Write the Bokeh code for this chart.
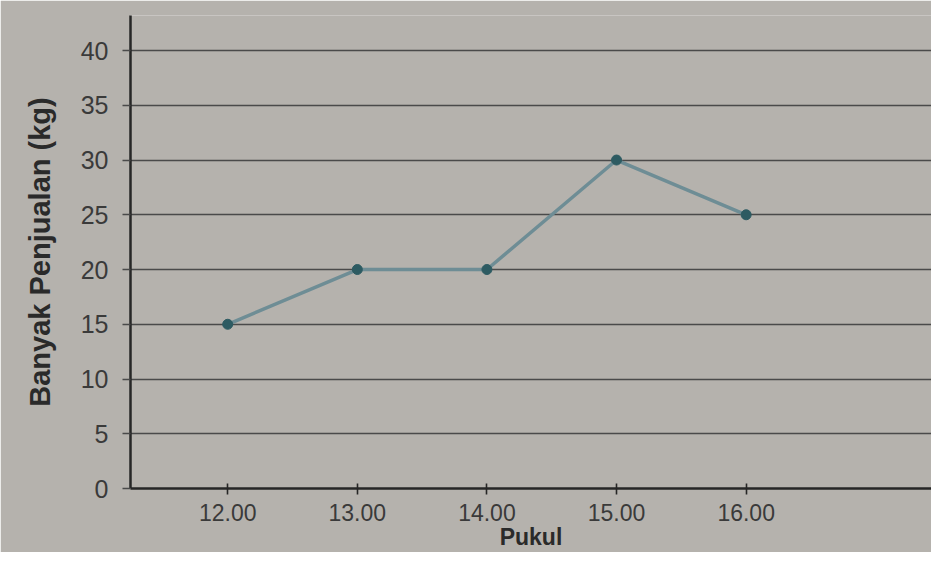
from bokeh.plotting import figure
from bokeh.models import FixedTicker
from bokeh.embed import file_html
from bokeh.resources import INLINE

hours = ["12.00", "13.00", "14.00", "15.00", "16.00"]
sales = [15, 20, 20, 30, 25]
y_ticks = [0, 5, 10, 15, 20, 25, 30, 35, 40]

xs = list(range(len(hours)))

BG = "#b5b2ad"
p = figure(width=931, height=552, output_backend="svg", toolbar_location=None,
           x_range=(-0.75, 5.43), y_range=(0, 43.2),
           min_border_left=130, min_border_right=0, min_border_top=15, min_border_bottom=64)
p.background_fill_color = BG
p.border_fill_color = BG
p.outline_line_color = None

FONT = "Liberation Sans"

# grid
p.xgrid.grid_line_color = None
p.ygrid.grid_line_color = "#4a4a4a"
p.ygrid.grid_line_width = 1.4
p.ygrid.ticker = FixedTicker(ticks=y_ticks)

# y axis
p.yaxis.ticker = FixedTicker(ticks=y_ticks)
p.yaxis.axis_line_color = "#262626"
p.yaxis.axis_line_width = 2.5
p.yaxis.major_tick_line_color = "#4a4a4a"
p.yaxis.major_tick_line_width = 1.4
p.yaxis.major_tick_out = 8
p.yaxis.major_tick_in = 0
p.yaxis.minor_tick_line_color = None
p.yaxis.major_label_text_font = FONT
p.yaxis.major_label_text_font_size = "25px"
p.yaxis.major_label_text_color = "#3a3a3a"
p.yaxis.major_label_standoff = 14
p.yaxis.axis_label = "Banyak Penjualan (kg)"
p.yaxis.axis_label_text_font = FONT
p.yaxis.axis_label_text_font_style = "bold"
p.yaxis.axis_label_text_font_size = "29px"
p.yaxis.axis_label_text_color = "#2a2a2a"
p.yaxis.axis_label_standoff = 22

# x axis
p.xaxis.ticker = FixedTicker(ticks=xs)
p.xaxis.major_label_overrides = {i: h for i, h in zip(xs, hours)}
p.xaxis.axis_line_color = "#262626"
p.xaxis.axis_line_width = 2.5
p.xaxis.major_tick_line_color = "#262626"
p.xaxis.major_tick_line_width = 1.6
p.xaxis.major_tick_out = 6
p.xaxis.major_tick_in = 5
p.xaxis.minor_tick_line_color = None
p.xaxis.major_label_text_font = FONT
p.xaxis.major_label_text_font_size = "23px"
p.xaxis.major_label_text_color = "#3a3a3a"
p.xaxis.major_label_standoff = 9
p.xaxis.axis_label = "Pukul"
p.xaxis.axis_label_text_font = FONT
p.xaxis.axis_label_text_font_style = "bold"
p.xaxis.axis_label_text_font_size = "23px"
p.xaxis.axis_label_text_color = "#2a2a2a"
p.xaxis.axis_label_standoff = 0

p.line(xs, sales, line_color="#6e8d95", line_width=3.5)
p.scatter(xs, sales, size=10, fill_color="#2d5b62", line_color="#2d5b62")

open("out.html", "w").write(file_html(p, INLINE))
